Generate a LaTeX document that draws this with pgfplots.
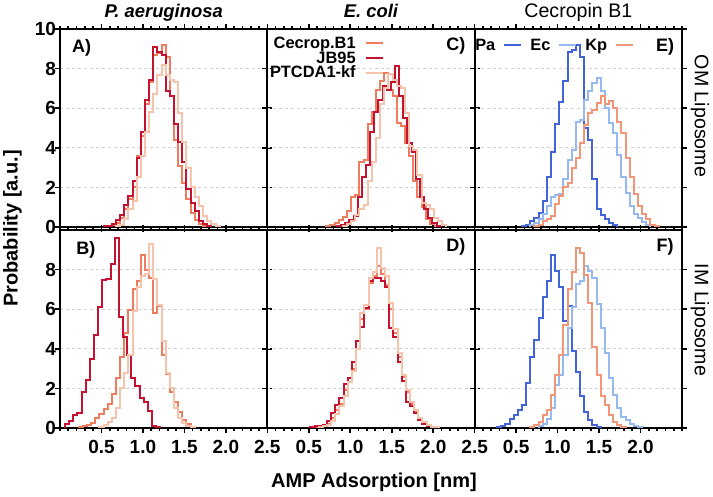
\documentclass[border=0pt]{standalone}
\usepackage{fontspec}
\setmainfont{Liberation Sans}
\usepackage{pgfplots}
\pgfplotsset{compat=1.18}
\usepgfplotslibrary{groupplots}

\definecolor{cecB}{RGB}{238,125,96}
\definecolor{jb}{RGB}{196,18,48}
\definecolor{ptc}{RGB}{246,196,172}
\definecolor{pa}{RGB}{66,100,216}
\definecolor{ec}{RGB}{150,185,240}
\definecolor{kp}{RGB}{242,150,120}

\newcommand{\fs}{\fontsize{9.5}{11}\selectfont}
\newcommand{\fl}{\fontsize{10}{12}\selectfont}
\newcommand{\ft}{\fontsize{9.2}{11}\selectfont}
\newcommand{\fg}{\fontsize{8.2}{9}\selectfont}

\tikzset{
  lbl/.style={anchor=base west, inner sep=0pt, font=\fontsize{9}{10}\selectfont\bfseries},
  rlbl/.style={anchor=base east, inner sep=0pt, font=\fontsize{9}{10}\selectfont\bfseries},
}
\pgfplotsset{
  hist/.style={const plot, line width=1pt, mark=none},
  mylegend/.style={
    legend cell align=right, legend plot pos=right,
    legend image code/.code={\draw[##1, line width=1pt] (0pt,0pt) -- (8.5pt,0pt);},
    legend style={draw=none, fill=none, inner sep=0pt, outer sep=0pt,
      row sep=0pt, column sep=4.5pt, font=\fg\bfseries,
      nodes={inner sep=0pt, text height=6.3pt, text depth=1pt}},
  },
}

\begin{document}
\begin{tikzpicture}
\begin{groupplot}[
  group style={group size=3 by 2, horizontal sep=0pt, vertical sep=1.5pt,
    xticklabels at=edge bottom, yticklabels at=edge left},
  scale only axis, width=103.67pt, height=99pt,
  xmin=0, xmax=2.5, ymin=0, ymax=10,
  xtick={0.5,1,1.5,2,2.5}, minor xtick={0,0.1,...,2.5},
  ytick={0,2,4,6,8,10},
  tick align=outside,
  major tick length=2.5pt, minor tick length=1.5pt,
  axis line style={line width=1pt},
  every tick/.style={black, line width=0.8pt},
  ymajorgrids, grid style={gray!35, dash pattern=on 1.5pt off 1.5pt, line width=0.5pt},
  tick label style={font=\fs\bfseries},
  yticklabel style={xshift=4pt},
  /pgf/number format/assume math mode=true,
  xticklabel style={/pgf/number format/fixed, /pgf/number format/fixed zerofill, /pgf/number format/precision=1},
  clip mode=individual,
]
% ---------------- A ----------------
\nextgroupplot
\addplot[hist, cecB] coordinates {(0.575,0)(0.575,0.03)(0.625,0.08)(0.675,0.2)(0.725,0.45)(0.775,0.9)(0.825,1.4)(0.875,2.0)(0.925,3.6)(0.975,4.6)(1.025,6.2)(1.075,7.3)(1.125,8.7)(1.175,8.8)(1.225,9.2)(1.275,8.6)(1.325,6.6)(1.375,4.4)(1.425,3.1)(1.475,2.2)(1.525,1.4)(1.575,0.7)(1.625,0.35)(1.675,0.15)(1.725,0.05)(1.775,0)};
\addplot[hist, jb] coordinates {(0.525,0)(0.525,0.03)(0.575,0.05)(0.625,0.15)(0.675,0.35)(0.725,0.6)(0.775,1.1)(0.825,1.55)(0.875,2.3)(0.925,3.5)(0.975,4.8)(1.025,6.4)(1.075,7.4)(1.125,9.1)(1.175,8.85)(1.225,8.7)(1.275,6.85)(1.325,6.6)(1.375,5.2)(1.425,4.3)(1.475,3.3)(1.525,1.9)(1.575,1.2)(1.625,0.8)(1.675,0.3)(1.725,0.13)(1.775,0.05)(1.825,0)};
\addplot[hist, ptc] coordinates {(0.675,0)(0.675,0.03)(0.725,0.1)(0.775,0.4)(0.825,0.9)(0.875,1.3)(0.925,2.5)(0.975,3.6)(1.025,4.8)(1.075,5.8)(1.125,6.7)(1.175,7.7)(1.225,8.2)(1.275,7.7)(1.325,7.4)(1.375,7.3)(1.425,5.75)(1.475,4.3)(1.525,3.0)(1.575,2.0)(1.625,1.5)(1.675,1.05)(1.725,0.55)(1.775,0.3)(1.825,0.13)(1.875,0.04)(1.925,0)};
\node[lbl, xshift=5.85pt, yshift=-12pt] at (rel axis cs:0,1) {A)};
\node[anchor=base, font=\ft\bfseries\itshape, yshift=5.85pt] at (rel axis cs:0.5,1) {P. aeruginosa};
% ---------------- C ----------------
\nextgroupplot[mylegend, legend style={at={(0,1)}, anchor=north west, xshift=1.35pt, yshift=-3.6pt}]
\addplot[hist, cecB] coordinates {(0.71,0)(0.71,0.05)(0.76,0.1)(0.81,0.2)(0.86,0.35)(0.91,0.5)(0.96,0.8)(1.01,1.5)(1.06,1.6)(1.11,3.3)(1.16,3.4)(1.21,5.2)(1.26,5.8)(1.31,6.9)(1.36,7.35)(1.41,7.8)(1.46,6.9)(1.51,6.6)(1.56,5.25)(1.61,5.1)(1.66,4.25)(1.71,3.6)(1.76,2.3)(1.81,1.5)(1.86,1.0)(1.91,0.4)(1.96,0.15)(2.01,0.05)(2.06,0)};
\addlegendentry{Cecrop.B1}
\addplot[hist, jb] coordinates {(0.84,0)(0.84,0.05)(0.89,0.1)(0.94,0.2)(0.99,0.35)(1.04,0.55)(1.09,1.5)(1.14,2.55)(1.19,3.15)(1.24,4.8)(1.29,5.8)(1.34,6.4)(1.39,7.1)(1.44,6.9)(1.49,7.3)(1.54,8.15)(1.59,6.6)(1.64,5.5)(1.69,4.25)(1.74,3.8)(1.79,2.4)(1.84,1.5)(1.89,0.9)(1.94,0.45)(1.99,0.2)(2.04,0.05)(2.09,0)};
\addlegendentry{JB95}
\addplot[hist, ptc] coordinates {(0.91,0)(0.91,0.05)(0.96,0.15)(1.01,0.3)(1.06,0.6)(1.11,0.9)(1.16,1.1)(1.21,2.3)(1.26,3.3)(1.31,4.5)(1.36,6.2)(1.41,7.0)(1.46,7.75)(1.51,7.4)(1.56,7.1)(1.61,7.0)(1.66,5.75)(1.71,4.1)(1.76,3.9)(1.81,2.65)(1.86,1.2)(1.91,1.1)(1.96,0.9)(2.01,0.45)(2.06,0.3)(2.11,0.1)(2.16,0)};
\addlegendentry{PTCDA1-kf}
\node[rlbl, xshift=-4.5pt, yshift=-11pt] at (rel axis cs:1,1) {C)};
\node[anchor=base, font=\ft\bfseries\itshape, yshift=5.85pt] at (rel axis cs:0.5,1) {E. coli};
% ---------------- E ----------------
\nextgroupplot[xtick={0.5,1,1.5,2}, mylegend, legend columns=3,
  legend style={at={(0,1)}, anchor=north west, xshift=0.3pt, yshift=-4.5pt, column sep=4pt}]
\addplot[hist, pa] coordinates {(0.57,0)(0.57,0.05)(0.62,0.1)(0.67,0.3)(0.72,0.45)(0.77,0.7)(0.82,1.3)(0.87,2.5)(0.92,3.8)(0.97,5.2)(1.02,6.3)(1.07,7.35)(1.12,8.85)(1.17,8.95)(1.22,9.2)(1.27,8.6)(1.32,5.0)(1.37,4.4)(1.42,2.4)(1.47,0.9)(1.52,0.6)(1.57,0.4)(1.62,0.2)(1.67,0.08)(1.72,0)};
\addlegendentry{Pa}
\addplot[hist, ec] coordinates {(0.67,0)(0.67,0.1)(0.72,0.2)(0.77,0.4)(0.82,0.65)(0.87,1.05)(0.92,1.5)(0.97,1.6)(1.02,1.65)(1.07,2.4)(1.12,3.4)(1.17,3.9)(1.22,5.3)(1.27,5.4)(1.32,6.4)(1.37,6.85)(1.42,7.25)(1.47,7.5)(1.52,6.85)(1.57,6.0)(1.62,5.25)(1.67,4.75)(1.72,3.65)(1.77,2.5)(1.82,1.7)(1.87,1.05)(1.92,0.65)(1.97,0.45)(2.02,0.25)(2.07,0.1)(2.12,0)};
\addlegendentry{Ec}
\addplot[hist, kp] coordinates {(0.72,0)(0.72,0.05)(0.77,0.1)(0.82,0.3)(0.87,0.4)(0.92,0.55)(0.97,1.15)(1.02,1.55)(1.07,2.0)(1.12,2.2)(1.17,3.0)(1.22,3.5)(1.27,4.25)(1.32,5.15)(1.37,5.75)(1.42,5.9)(1.47,6.25)(1.52,6.6)(1.57,6.2)(1.62,6.35)(1.67,6.0)(1.72,5.3)(1.77,4.75)(1.82,3.5)(1.87,2.5)(1.92,1.65)(1.97,1.05)(2.02,0.65)(2.07,0.4)(2.12,0.1)(2.17,0.03)(2.22,0)};
\addlegendentry{Kp}
\node[rlbl, xshift=-3.7pt, yshift=-11.3pt] at (rel axis cs:1,1) {E)};
\node[anchor=base, font=\fontsize{9.8}{11}\selectfont, yshift=5.85pt] at (rel axis cs:0.5,1) {Cecropin B1};
\node[font=\fontsize{9.8}{11}\selectfont, xshift=9pt, yshift=6pt, rotate=-90] at (rel axis cs:1,0.5) {OM Liposome};
% ---------------- B ----------------
\nextgroupplot[ytick={0,2,4,6,8}]
\addplot[hist, cecB] coordinates {(0.225,0)(0.225,0.05)(0.275,0.1)(0.325,0.15)(0.375,0.25)(0.425,0.5)(0.475,0.7)(0.525,0.95)(0.575,1.2)(0.625,1.7)(0.675,2.5)(0.725,3.6)(0.775,4.8)(0.825,5.95)(0.875,7.0)(0.925,7.4)(0.975,8.75)(1.025,8.0)(1.075,7.6)(1.125,5.8)(1.175,6.15)(1.225,3.7)(1.275,2.75)(1.325,1.8)(1.375,1.3)(1.425,0.8)(1.475,0.4)(1.525,0.2)(1.575,0.07)(1.625,0)};
\addplot[hist, jb] coordinates {(0.06,0)(0.06,0.2)(0.11,0.35)(0.16,0.65)(0.21,0.75)(0.26,1.8)(0.31,2.4)(0.36,3.5)(0.41,4.7)(0.46,6.1)(0.51,7.45)(0.56,7.55)(0.61,8.3)(0.66,9.6)(0.71,5.6)(0.76,4.6)(0.81,3.7)(0.86,2.5)(0.91,2.1)(0.96,1.5)(1.01,1.3)(1.06,0.85)(1.11,0.12)(1.16,0.05)(1.21,0)};
\addplot[hist, ptc] coordinates {(0.475,0)(0.475,0.05)(0.525,0.15)(0.575,0.3)(0.625,0.5)(0.675,1.0)(0.725,2.0)(0.775,2.8)(0.825,3.7)(0.875,5.9)(0.925,7.1)(0.975,7.7)(1.025,7.8)(1.075,9.3)(1.125,7.5)(1.175,6.2)(1.225,4.4)(1.275,2.8)(1.325,2.0)(1.375,1.0)(1.425,0.5)(1.475,0.25)(1.525,0.1)(1.575,0.04)(1.625,0)};
\node[lbl, xshift=8pt, yshift=-12.5pt] at (rel axis cs:0,1) {B)};
\node[font=\fl\bfseries, xshift=-23.75pt, yshift=0.75pt, rotate=90] at (rel axis cs:0,1) {Probability [a.u.]};
% ---------------- D ----------------
\nextgroupplot[ytick={0,2,4,6,8}]
\addplot[hist, cecB] coordinates {(0.57,0)(0.57,0.03)(0.62,0.06)(0.67,0.1)(0.72,0.2)(0.77,0.5)(0.82,0.9)(0.87,1.2)(0.92,1.9)(0.97,2.3)(1.02,3.0)(1.07,4.0)(1.12,5.5)(1.17,6.0)(1.22,7.3)(1.27,7.7)(1.32,8.2)(1.37,7.8)(1.42,7.2)(1.47,6.0)(1.52,4.8)(1.57,3.6)(1.62,2.6)(1.67,1.8)(1.72,1.2)(1.77,0.8)(1.82,0.45)(1.87,0.25)(1.92,0.1)(1.97,0.05)(2.02,0.02)(2.07,0)};
\addplot[hist, jb] coordinates {(0.52,0)(0.52,0.05)(0.57,0.08)(0.62,0.1)(0.67,0.15)(0.72,0.35)(0.77,0.75)(0.82,1.15)(0.87,1.5)(0.92,2.2)(0.97,2.5)(1.02,3.35)(1.07,4.4)(1.12,5.1)(1.17,6.05)(1.22,7.4)(1.27,7.6)(1.32,7.6)(1.37,7.4)(1.42,7.1)(1.47,5.05)(1.52,4.6)(1.57,3.35)(1.62,2.35)(1.67,1.3)(1.72,1.1)(1.77,0.75)(1.82,0.4)(1.87,0.2)(1.92,0.08)(1.97,0.03)(2.02,0)};
\addplot[hist, ptc] coordinates {(0.62,0)(0.62,0.03)(0.67,0.08)(0.72,0.15)(0.77,0.35)(0.82,0.7)(0.87,1.1)(0.92,1.6)(0.97,2.3)(1.02,2.9)(1.07,4.0)(1.12,5.8)(1.17,6.2)(1.22,7.6)(1.27,7.9)(1.32,9.1)(1.37,8.1)(1.42,7.7)(1.47,6.3)(1.52,5.0)(1.57,3.8)(1.62,2.7)(1.67,1.9)(1.72,1.3)(1.77,0.9)(1.82,0.5)(1.87,0.3)(1.92,0.15)(1.97,0.07)(2.02,0.03)(2.07,0)};
\node[rlbl, xshift=-4.5pt, yshift=-11pt] at (rel axis cs:1,1) {D)};
\node[anchor=base, font=\fl\bfseries, xshift=1.5pt, yshift=-30pt] at (rel axis cs:0.5,0) {AMP Adsorption [nm]};
% ---------------- F ----------------
\nextgroupplot[ytick={0,2,4,6,8}, xtick={0.5,1,1.5,2}]
\addplot[hist, pa] coordinates {(0.27,0)(0.27,0.05)(0.32,0.1)(0.37,0.2)(0.42,0.45)(0.47,0.65)(0.52,0.9)(0.57,1.15)(0.62,2.25)(0.67,3.6)(0.72,4.45)(0.77,5.55)(0.82,6.6)(0.87,7.4)(0.92,8.75)(0.97,7.95)(1.02,7.1)(1.07,5.4)(1.12,6.15)(1.17,3.9)(1.22,2.85)(1.27,1.6)(1.32,0.8)(1.37,0.4)(1.42,0.15)(1.47,0.05)(1.52,0)};
\addplot[hist, ec] coordinates {(0.77,0)(0.77,0.1)(0.82,0.2)(0.87,0.45)(0.92,1.0)(0.97,2.15)(1.02,2.7)(1.07,3.7)(1.12,5.05)(1.17,6.1)(1.22,7.25)(1.27,7.4)(1.32,8.2)(1.37,7.95)(1.42,7.6)(1.47,6.25)(1.52,5.05)(1.57,3.8)(1.62,2.5)(1.67,1.65)(1.72,1.0)(1.77,0.55)(1.82,0.4)(1.87,0.2)(1.92,0.08)(1.97,0.03)(2.02,0)};
\addplot[hist, kp] coordinates {(0.67,0)(0.67,0.05)(0.72,0.13)(0.77,0.3)(0.82,0.65)(0.87,0.9)(0.92,1.65)(0.97,2.7)(1.02,3.7)(1.07,5.2)(1.12,7.0)(1.17,7.9)(1.22,9.1)(1.27,8.85)(1.32,7.75)(1.37,6.3)(1.42,4.1)(1.47,2.7)(1.52,1.6)(1.57,1.15)(1.62,0.65)(1.67,0.3)(1.72,0.15)(1.77,0.05)(1.82,0)};
\node[rlbl, xshift=-4pt, yshift=-11pt] at (rel axis cs:1,1) {F)};
\node[font=\fontsize{9.8}{11}\selectfont, xshift=9pt, yshift=4.5pt, rotate=-90] at (rel axis cs:1,0.5) {IM Liposome};
\end{groupplot}
\pgfresetboundingbox
\path[use as bounding box] ([xshift=-30pt,yshift=14.5pt]group c1r1.north west) rectangle ([xshift=15.5pt,yshift=-34.5pt]group c3r2.south east);
\end{tikzpicture}
\end{document}
